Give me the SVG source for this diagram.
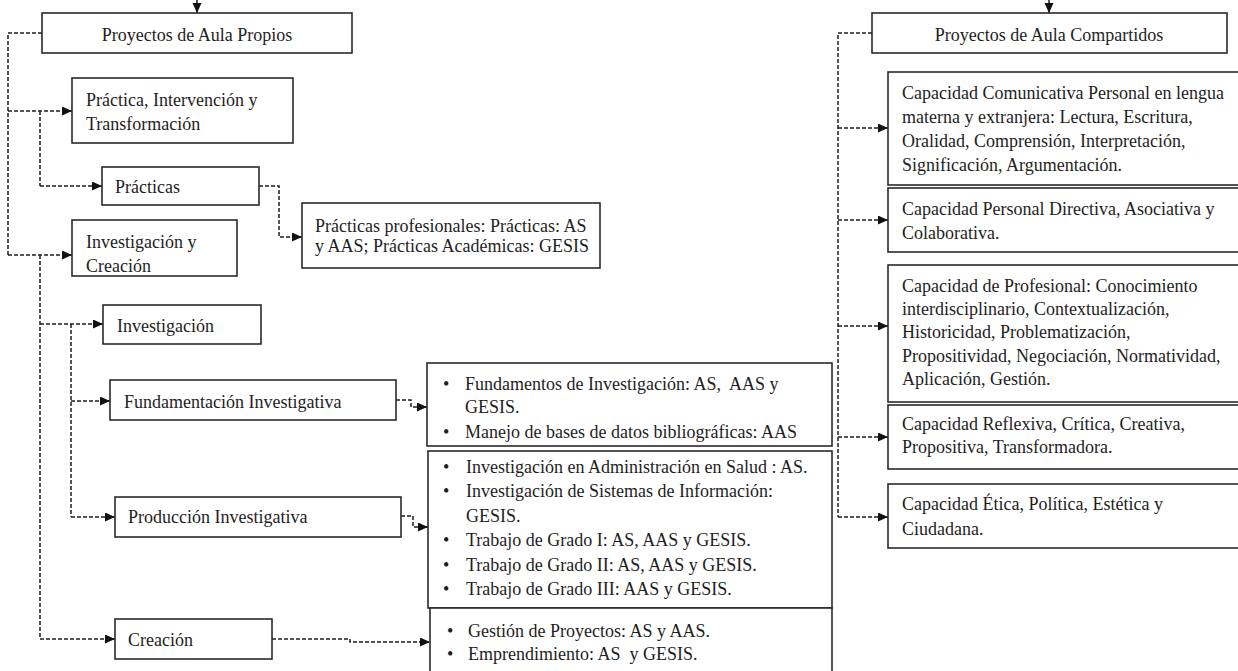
<svg xmlns="http://www.w3.org/2000/svg" width="1238" height="671" viewBox="0 0 1238 671">
<defs>
<marker id="ah" markerUnits="userSpaceOnUse" markerWidth="11" markerHeight="10" refX="10" refY="4.5" orient="auto">
<path d="M0,0 L10,4.5 L0,9 z" fill="#111"/>
</marker>
<style>
.box{fill:#fff;stroke:#2a2a2a;stroke-width:1.6}
.t{font-family:"Liberation Serif","Times New Roman",serif;font-size:18px;fill:#1e1e1e}
.c{stroke:#1e1e1e;stroke-width:1.5;fill:none;stroke-dasharray:4 2;marker-end:url(#ah)}
.cs{stroke:#1e1e1e;stroke-width:1.5;fill:none;stroke-dasharray:4 2}
.s{stroke:#1e1e1e;stroke-width:1.5;fill:none;marker-end:url(#ah)}
</style>
</defs>
<rect width="1238" height="671" fill="#fff"/>

<g id="connectors">
<path class="s" d="M197,0 V13"/>
<path class="s" d="M1049,0 V13"/>
<path class="cs" d="M42,33 H8 V255"/>
<path class="c" d="M8,111 H72"/>
<path class="cs" d="M40,111 V186"/>
<path class="c" d="M40,186 H102"/>
<path class="c" d="M8,255 H72"/>
<path class="cs" d="M40,255 V639"/>
<path class="c" d="M40,324 H103"/>
<path class="cs" d="M71,324 V517"/>
<path class="c" d="M71,401 H110"/>
<path class="c" d="M71,517 H115"/>
<path class="c" d="M40,639 H115"/>
<path class="c" d="M259,186 H279 V237 H302"/>
<path class="c" d="M396,400 H411 V407 H427"/>
<path class="c" d="M401,516 H413 V527 H428"/>
<path class="c" d="M272,639 H350 V642 H430"/>
<path class="cs" d="M872,33 H838 V517"/>
<path class="c" d="M838,128 H888"/>
<path class="c" d="M838,220 H888"/>
<path class="c" d="M838,326 H888"/>
<path class="c" d="M838,437 H888"/>
<path class="c" d="M838,517 H888"/>
</g>

<g id="n-propios">
<rect class="box" x="42" y="13" width="310" height="40"/>
<text class="t" x="197" y="41" text-anchor="middle">Proyectos de Aula Propios</text>
</g>
<g id="n-practica-int">
<rect class="box" x="72" y="78" width="221" height="65"/>
<text class="t" x="86" y="106">Práctica, Intervención y</text>
<text class="t" x="86" y="130">Transformación</text>
</g>
<g id="n-practicas">
<rect class="box" x="102" y="167" width="157" height="38"/>
<text class="t" x="115" y="193">Prácticas</text>
</g>
<g id="n-practicas-prof">
<rect class="box" x="302" y="203" width="298" height="65"/>
<text class="t" x="315" y="232">Prácticas profesionales: Prácticas: AS</text>
<text class="t" x="315" y="252">y AAS; Prácticas Académicas: GESIS</text>
</g>
<g id="n-inv-creacion">
<rect class="box" x="72" y="220" width="165" height="56"/>
<text class="t" x="86" y="248">Investigación y</text>
<text class="t" x="86" y="272">Creación</text>
</g>
<g id="n-investigacion">
<rect class="box" x="103" y="305" width="158" height="39"/>
<text class="t" x="117" y="332">Investigación</text>
</g>
<g id="n-fundamentacion">
<rect class="box" x="110" y="380" width="286" height="40"/>
<text class="t" x="124" y="408">Fundamentación Investigativa</text>
</g>
<g id="n-produccion">
<rect class="box" x="115" y="497" width="286" height="40"/>
<text class="t" x="128" y="523">Producción Investigativa</text>
</g>
<g id="n-creacion">
<rect class="box" x="115" y="619" width="157" height="40"/>
<text class="t" x="128" y="646">Creación</text>
</g>
<g id="n-fund-list">
<rect class="box" x="427" y="363" width="405" height="83"/>
<text class="t" x="443" y="390">•</text>
<text class="t" x="465" y="390" xml:space="preserve">Fundamentos de Investigación: AS,  AAS y</text>
<text class="t" x="465" y="413">GESIS.</text>
<text class="t" x="443" y="438">•</text>
<text class="t" x="465" y="438">Manejo de bases de datos bibliográficas: AAS</text>
</g>
<g id="n-prod-list">
<rect class="box" x="428" y="451" width="404" height="157"/>
<text class="t" x="443" y="473">•</text>
<text class="t" x="466" y="473">Investigación en Administración en Salud : AS.</text>
<text class="t" x="443" y="497">•</text>
<text class="t" x="466" y="497">Investigación de Sistemas de Información:</text>
<text class="t" x="466" y="522">GESIS.</text>
<text class="t" x="443" y="546">•</text>
<text class="t" x="466" y="546">Trabajo de Grado I: AS, AAS y GESIS.</text>
<text class="t" x="443" y="571">•</text>
<text class="t" x="466" y="571">Trabajo de Grado II: AS, AAS y GESIS.</text>
<text class="t" x="443" y="595">•</text>
<text class="t" x="466" y="595">Trabajo de Grado III: AAS y GESIS.</text>
</g>
<g id="n-crea-list">
<rect class="box" x="430" y="608" width="402" height="80"/>
<text class="t" x="447" y="637">•</text>
<text class="t" x="468" y="637">Gestión de Proyectos: AS y AAS.</text>
<text class="t" x="447" y="660">•</text>
<text class="t" x="468" y="660" xml:space="preserve">Emprendimiento: AS  y GESIS.</text>
</g>

<g id="n-compartidos">
<rect class="box" x="872" y="13" width="355" height="40"/>
<text class="t" x="1049" y="41" text-anchor="middle">Proyectos de Aula Compartidos</text>
</g>
<g id="n-comunicativa">
<rect class="box" x="888" y="72" width="360" height="113"/>
<text class="t" x="902" y="99">Capacidad Comunicativa Personal en lengua</text>
<text class="t" x="902" y="123">materna y extranjera: Lectura, Escritura,</text>
<text class="t" x="902" y="147">Oralidad, Comprensión, Interpretación,</text>
<text class="t" x="902" y="171">Significación, Argumentación.</text>
</g>
<g id="n-directiva">
<rect class="box" x="888" y="188" width="360" height="64"/>
<text class="t" x="902" y="215">Capacidad Personal Directiva, Asociativa y</text>
<text class="t" x="902" y="239">Colaborativa.</text>
</g>
<g id="n-profesional">
<rect class="box" x="888" y="265" width="360" height="137"/>
<text class="t" x="902" y="292">Capacidad de Profesional: Conocimiento</text>
<text class="t" x="902" y="315">interdisciplinario, Contextualización,</text>
<text class="t" x="902" y="338">Historicidad, Problematización,</text>
<text class="t" x="902" y="362">Propositividad, Negociación, Normatividad,</text>
<text class="t" x="902" y="385">Aplicación, Gestión.</text>
</g>
<g id="n-reflexiva">
<rect class="box" x="888" y="405" width="360" height="64"/>
<text class="t" x="902" y="430">Capacidad Reflexiva, Crítica, Creativa,</text>
<text class="t" x="902" y="453">Propositiva, Transformadora.</text>
</g>
<g id="n-etica">
<rect class="box" x="888" y="484" width="360" height="64"/>
<text class="t" x="902" y="510">Capacidad Ética, Política, Estética y</text>
<text class="t" x="902" y="535">Ciudadana.</text>
</g>
</svg>
